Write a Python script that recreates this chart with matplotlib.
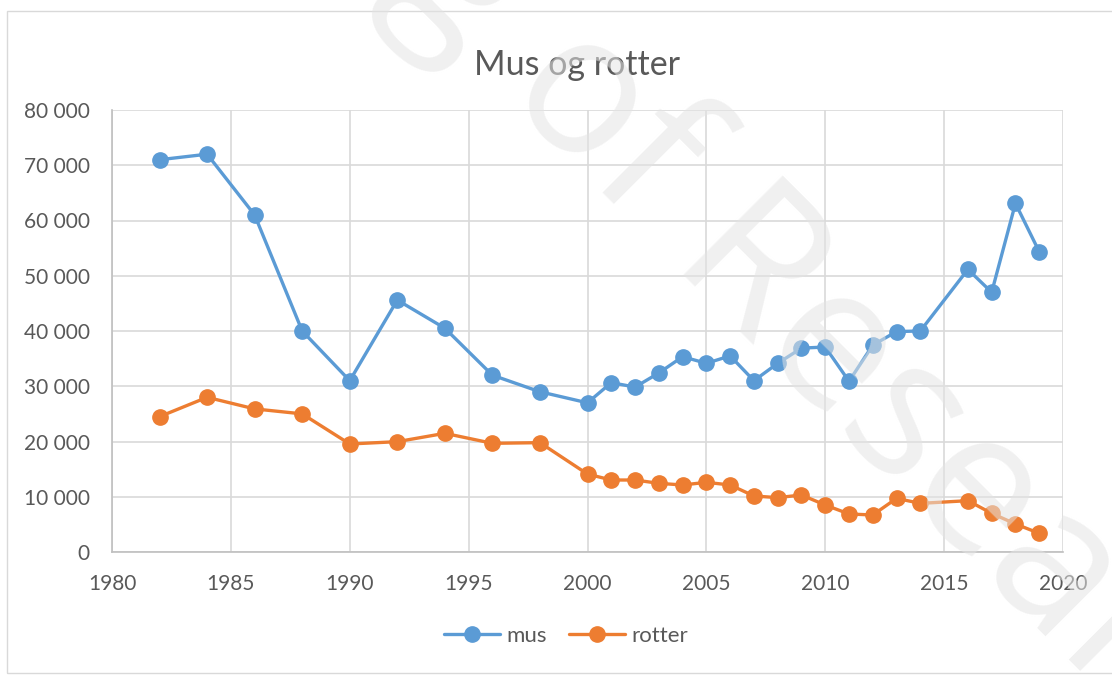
import matplotlib
matplotlib.use("Agg")
import matplotlib.pyplot as plt
from matplotlib.ticker import FuncFormatter, MultipleLocator
from matplotlib.patches import Rectangle

years_mus = [1982, 1984, 1986, 1988, 1990, 1992, 1994, 1996, 1998, 2000,
             2001, 2002, 2003, 2004, 2005, 2006, 2007, 2008, 2009, 2010,
             2011, 2012, 2013, 2014, 2016, 2017, 2018, 2019]
mus = [71000, 72000, 61000, 40000, 31000, 45600, 40500, 32000, 29000, 27000,
       30650, 29850, 32400, 35350, 34150, 35500, 31000, 34150, 36900, 37100,
       30900, 37450, 39900, 40000, 51150, 47000, 63100, 54350]
years_rotter = years_mus
rotter = [24500, 28000, 25900, 25000, 19550, 19970, 21480, 19670, 19790, 14100,
          13030, 13030, 12430, 12130, 12610, 12130, 10140, 9840, 10320, 8500,
          6880, 6700, 9710, 8800, 9290, 7000, 5070, 3380]

title = "Mus og rotter"
series_names = ["mus", "rotter"]
colors = ["#5B9BD5", "#ED7D31"]

plt.rcParams['font.family'] = ['Lato', 'DejaVu Sans']
text_color = "#595959"

fig = plt.figure(figsize=(11.12, 6.75), dpi=100)
fig.patch.set_facecolor("white")

# chart area border
fig.patches.append(Rectangle((7/1112, 2/675), 1.2, 662/675, transform=fig.transFigure,
                             fill=False, edgecolor="#d9d9d9", linewidth=1.0, zorder=0))

ax = fig.add_axes([112/1112, 1-552/675, (1063-112)/1112, (552-110)/675])
for yrs, vals, name, c in [(years_mus, mus, series_names[0], colors[0]),
                           (years_rotter, rotter, series_names[1], colors[1])]:
    ax.plot(yrs, vals, color=c, linewidth=2.4, marker='o', markersize=11,
            markeredgecolor=c, label=name, solid_capstyle='round', zorder=3)

ax.set_xlim(1980, 2020)
ax.set_ylim(0, 80000)
ax.xaxis.set_major_locator(MultipleLocator(5))
ax.yaxis.set_major_locator(MultipleLocator(10000))
ax.yaxis.set_major_formatter(FuncFormatter(lambda v, p: f"{int(v):,}".replace(",", " ")))
ax.grid(True, color="#d9d9d9", linewidth=1.2, zorder=0)
ax.set_axisbelow(True)
for s in ["top", "right"]:
    ax.spines[s].set_visible(False)
for s in ["left", "bottom"]:
    ax.spines[s].set_color("#bfbfbf")
    ax.spines[s].set_linewidth(1.2)
ax.tick_params(axis='both', length=0, labelsize=15, labelcolor=text_color)
ax.tick_params(axis='y', pad=16)
ax.tick_params(axis='x', pad=16)

fig.text(577/1112, 1-65/675, title, ha='center', va='center', fontsize=24.5, color=text_color)

leg = fig.legend(loc='center', bbox_to_anchor=(566/1112, 1-636/675), ncol=2, frameon=False,
                 fontsize=16, handlelength=2.5, columnspacing=1.0, handletextpad=0.3)
for t in leg.get_texts():
    t.set_color(text_color)

# watermark
wm_kw = dict(rotation=-45, rotation_mode='anchor', fontsize=142, color="#e4e4e4",
             alpha=0.55, family=['Open Sans', 'DejaVu Sans'], va='baseline', zorder=10)
fig.text(502/1112, 1-94/675, "of Research", ha='left', **wm_kw)
fig.text(502/1112, 1-94/675, "Blog ", ha='right', **wm_kw)

fig.savefig("out.png", dpi=100, facecolor="white")
